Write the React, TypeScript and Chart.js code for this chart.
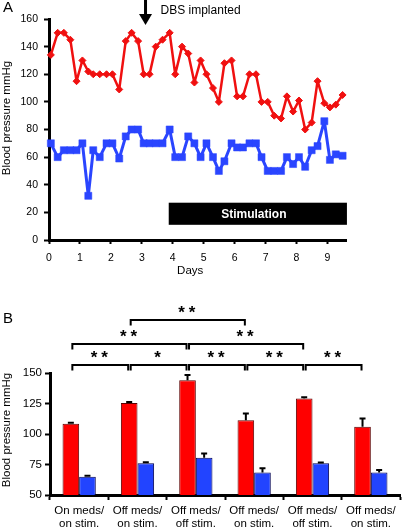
import React, { useEffect, useRef } from 'react';
import { Chart, registerables } from 'chart.js';

Chart.register(...registerables);

const FONT = "'Liberation Sans', Arial, Helvetica, sans-serif";
const RED = '#f01010';
const BLUE = '#2a45ff';
const BAR_RED = '#ff0000';
const BAR_BLUE = '#2244ff';

// ---------- Panel A data ----------
const DAYS = [0.06, 0.28, 0.48, 0.69, 0.89, 1.08, 1.27, 1.43, 1.64, 1.86, 2.05, 2.27, 2.48, 2.67, 2.88, 3.06, 3.25, 3.45, 3.67, 3.9, 4.08, 4.3, 4.5, 4.7, 4.9, 5.09, 5.3, 5.49, 5.67, 5.9, 6.08, 6.27, 6.48, 6.69, 6.87, 7.07, 7.28, 7.5, 7.69, 7.89, 8.08, 8.28, 8.49, 8.68, 8.9, 9.08, 9.27, 9.49];
const SYSTOLIC = [134, 150, 150, 145, 115, 130, 122, 120, 120, 120, 120, 109, 144, 150, 144, 120, 120, 140, 145, 150, 120, 140, 135, 114, 130, 120, 110, 100, 128, 130, 104, 104, 120, 120, 100, 100, 90, 88, 104, 93, 101, 80, 85, 115, 99, 96, 98, 105];
const DIASTOLIC = [70, 60, 65, 65, 65, 70, 32, 65, 60, 70, 70, 59, 75, 80, 80, 70, 70, 70, 70, 80, 60, 60, 75, 70, 60, 70, 60, 50, 57, 70, 67, 67, 70, 70, 60, 50, 50, 50, 60, 55, 60, 53, 65, 68, 86, 58, 62, 61];
const X_TICKS_A = [0, 1, 2, 3, 4, 5, 6, 7, 8, 9];
const Y_TICKS_A = [0, 20, 40, 60, 80, 100, 120, 140, 160];
const X_MAX_A = 9.6;
const STIM_START = 3.87;
const STIM_END = 9.63;
const STIM_LOW = 11;
const STIM_HIGH = 27;
const STIM_LABEL = 'Stimulation';
const DBS_DAY = 3.12;
const DBS_LABEL = 'DBS implanted';
const Y_TITLE = 'Blood pressure mmHg';
const X_TITLE_A = 'Days';

// ---------- Panel B data ----------
const CONDITIONS = [
  ['On meds/', 'on stim.'],
  ['Off meds/', 'on stim.'],
  ['Off meds/', 'off stim.'],
  ['Off meds/', 'on stim.'],
  ['Off meds/', 'off stim.'],
  ['Off meds/', 'on stim.'],
];
const SYS_MEAN = [108.5, 125.5, 144, 111.3, 129, 106];
const SYS_ERR = [0.7, 0.8, 4.4, 5.5, 1.2, 6.8];
const DIA_MEAN = [65, 76, 80.5, 68.5, 76, 68.5];
const DIA_ERR = [0.8, 0.8, 3.5, 3.5, 0.6, 2];
const Y_TICKS_B = [50, 75, 100, 125, 150];
// [from condition, to condition, row, stars]
const COMPARISONS: [number, number, number, string][] = [
  [0, 1, 0, '**'],
  [1, 2, 0, '*'],
  [2, 3, 0, '**'],
  [3, 4, 0, '**'],
  [4, 5, 0, '**'],
  [0, 2, 1, '**'],
  [2, 4, 1, '**'],
  [1, 3, 2, '**'],
];
// vertical offsets (px above plot top) of bracket rows
const ROW_OFFSET = [8, 29, 53];

const axisTicks = (vals: number[]) => (s: any) => {
  s.ticks = vals.map((v) => ({ value: v }));
};

const panelAPlugin = {
  id: 'panelA',
  afterDatasetsDraw(chart: any) {
    const { ctx, scales } = chart;
    const x = scales.x;
    const y = scales.y;
    ctx.save();
    // stimulation bar
    const x0 = x.getPixelForValue(STIM_START);
    const x1 = x.getPixelForValue(STIM_END);
    const y0 = y.getPixelForValue(STIM_HIGH);
    const y1 = y.getPixelForValue(STIM_LOW);
    ctx.fillStyle = '#000';
    ctx.fillRect(x0, y0, x1 - x0, y1 - y0);
    ctx.fillStyle = '#fff';
    ctx.font = `bold 12px ${FONT}`;
    ctx.textAlign = 'center';
    ctx.textBaseline = 'middle';
    ctx.fillText(STIM_LABEL, (x0 + x1) / 2 - 4, (y0 + y1) / 2 + 0.5);

    // DBS arrow
    const ax = x.getPixelForValue(DBS_DAY);
    ctx.fillStyle = '#000';
    ctx.fillRect(ax - 1.5, 0, 3, 17);
    ctx.beginPath();
    ctx.moveTo(ax - 6.5, 14);
    ctx.lineTo(ax + 6.5, 14);
    ctx.lineTo(ax, 25);
    ctx.closePath();
    ctx.fill();
    ctx.font = `12px ${FONT}`;
    ctx.textAlign = 'left';
    ctx.textBaseline = 'middle';
    ctx.fillText(DBS_LABEL, ax + 15, 11);

    // panel letter
    ctx.font = `15px ${FONT}`;
    ctx.textBaseline = 'alphabetic';
    ctx.fillText('A', 3, 12);

    // axis titles
    ctx.font = `11.5px ${FONT}`;
    ctx.textAlign = 'center';
    ctx.textBaseline = 'middle';
    ctx.fillText(X_TITLE_A, (x.getPixelForValue(0) + x.getPixelForValue(9)) / 2 + 2, 271);
    ctx.translate(7, 118);
    ctx.rotate(-Math.PI / 2);
    ctx.fillText(Y_TITLE, 0, 0);
    ctx.restore();
  },
};

const panelBPlugin = {
  id: 'panelB',
  afterDatasetsDraw(chart: any) {
    const { ctx, scales, chartArea } = chart;
    const y = scales.y;
    ctx.save();
    // error bars
    const sets = [
      { mean: SYS_MEAN, err: SYS_ERR },
      { mean: DIA_MEAN, err: DIA_ERR },
    ];
    ctx.strokeStyle = '#000';
    ctx.lineWidth = 2;
    sets.forEach((s, di) => {
      const meta = chart.getDatasetMeta(di);
      meta.data.forEach((bar: any, i: number) => {
        const top = y.getPixelForValue(s.mean[i] + s.err[i]);
        ctx.beginPath();
        ctx.moveTo(bar.x, bar.y);
        ctx.lineTo(bar.x, top);
        ctx.moveTo(bar.x - 3, top);
        ctx.lineTo(bar.x + 3, top);
        ctx.stroke();
      });
    });

    // significance brackets
    const reds = chart.getDatasetMeta(0).data;
    ctx.lineWidth = 2;
    COMPARISONS.forEach(([a, b, row, stars]) => {
      const xa = reds[a].x + 1.5;
      const xb = reds[b].x - 1;
      const ly = chartArea.top - ROW_OFFSET[row];
      ctx.beginPath();
      ctx.moveTo(xa, ly + 5.5);
      ctx.lineTo(xa, ly);
      ctx.lineTo(xb, ly);
      ctx.lineTo(xb, ly + 5.5);
      ctx.stroke();
      const cx = (xa + xb) / 2 - 1;
      const cy = ly - 11.5;
      ctx.fillStyle = '#000';
      ctx.font = `bold 17px ${FONT}`;
      ctx.textAlign = 'center';
      ctx.textBaseline = 'alphabetic';
      const n = stars.length;
      for (let k = 0; k < n; k++) {
        const sx = cx + (k - (n - 1) / 2) * 10.5;
        ctx.fillText('*', sx, cy + 0.58 * 17);
      }
    });

    // panel letter and y title
    ctx.fillStyle = '#000';
    ctx.font = `15px ${FONT}`;
    ctx.textAlign = 'left';
    ctx.textBaseline = 'alphabetic';
    ctx.fillText('B', 3, 43);
    ctx.font = `11.5px ${FONT}`;
    ctx.textAlign = 'center';
    ctx.textBaseline = 'middle';
    ctx.translate(7, 150);
    ctx.rotate(-Math.PI / 2);
    ctx.fillText(Y_TITLE, 0, 0);
    ctx.restore();
  },
};

function PanelA() {
  const ref = useRef<HTMLCanvasElement>(null);
  useEffect(() => {
    const canvas = ref.current;
    if (!canvas) return;
    const chart = new Chart(canvas, {
      type: 'line',
      data: {
        datasets: [
          {
            label: 'Systolic',
            data: DAYS.map((d, i) => ({ x: d, y: SYSTOLIC[i] })),
            borderColor: RED,
            backgroundColor: RED,
            borderWidth: 2.5,
            borderJoinStyle: 'round',
            pointStyle: 'rectRot',
            pointRadius: 3.5,
            pointBorderWidth: 1,
            pointBorderColor: RED,
            pointBackgroundColor: RED,
            tension: 0,
            clip: false,
          } as any,
          {
            label: 'Diastolic',
            data: DAYS.map((d, i) => ({ x: d, y: DIASTOLIC[i] })),
            borderColor: BLUE,
            backgroundColor: BLUE,
            borderWidth: 3,
            borderJoinStyle: 'round',
            pointStyle: 'rect',
            pointRadius: 5,
            pointBorderWidth: 0.5,
            pointBorderColor: BLUE,
            pointBackgroundColor: BLUE,
            tension: 0,
            clip: false,
          } as any,
        ],
      },
      options: {
        animation: false,
        responsive: false,
        devicePixelRatio: 1,
        layout: { padding: { top: 19, right: 56, left: 0, bottom: 0 } },
        plugins: { legend: { display: false }, tooltip: { enabled: false } },
        scales: {
          x: {
            type: 'linear',
            min: 0,
            max: X_MAX_A,
            afterBuildTicks: axisTicks(X_TICKS_A),
            afterFit: (s: any) => {
              s.height = 40;
            },
            ticks: { color: '#000', font: { family: FONT, size: 10.5 }, padding: 8, maxRotation: 0, autoSkip: false },
            grid: { drawOnChartArea: false, drawTicks: true, tickLength: 4, tickColor: '#000', tickWidth: 2 },
            border: { color: '#000', width: 3 },
          },
          y: {
            min: 0,
            max: 160,
            afterBuildTicks: axisTicks(Y_TICKS_A),
            afterFit: (s: any) => {
              s.width = 49;
            },
            ticks: { color: '#000', font: { family: FONT, size: 10.5 }, padding: 6 },
            grid: { drawOnChartArea: false, drawTicks: true, tickLength: 5, tickColor: '#000', tickWidth: 2 },
            border: { color: '#000', width: 3 },
          },
        },
      } as any,
      plugins: [panelAPlugin],
    });
    return () => chart.destroy();
  }, []);
  return (
    <canvas
      ref={ref}
      width={402}
      height={280}
      style={{ position: 'absolute', left: 0, top: 0, width: 402, height: 280 }}
    />
  );
}

function PanelB() {
  const ref = useRef<HTMLCanvasElement>(null);
  useEffect(() => {
    const canvas = ref.current;
    if (!canvas) return;
    const chart = new Chart(canvas, {
      type: 'bar',
      data: {
        labels: CONDITIONS,
        datasets: [
          {
            label: 'Systolic',
            data: SYS_MEAN,
            backgroundColor: BAR_RED,
            borderColor: '#5a0000',
            borderWidth: 1,
            categoryPercentage: 0.57,
            barPercentage: 1,
          },
          {
            label: 'Diastolic',
            data: DIA_MEAN,
            backgroundColor: BAR_BLUE,
            borderColor: '#000050',
            borderWidth: 1,
            categoryPercentage: 0.57,
            barPercentage: 1,
          },
        ],
      },
      options: {
        animation: false,
        responsive: false,
        devicePixelRatio: 1,
        layout: { padding: { top: 93, right: 2, left: 0, bottom: 0 } },
        plugins: { legend: { display: false }, tooltip: { enabled: false } },
        scales: {
          x: {
            afterFit: (s: any) => {
              s.height = 32;
            },
            ticks: {
              color: '#000',
              font: { family: FONT, size: 11.5, lineHeight: 1.08 },
              padding: 5,
              maxRotation: 0,
              autoSkip: false,
            },
            grid: { drawOnChartArea: false, drawTicks: true, tickLength: 5, tickColor: '#000', tickWidth: 2 },
            border: { color: '#000', width: 3 },
          },
          y: {
            min: 50,
            max: 150,
            afterBuildTicks: axisTicks(Y_TICKS_B),
            afterFit: (s: any) => {
              s.width = 50;
            },
            ticks: { color: '#000', font: { family: FONT, size: 11.5 }, padding: 3 },
            grid: { drawOnChartArea: false, drawTicks: true, tickLength: 5, tickColor: '#000', tickWidth: 2 },
            border: { color: '#000', width: 3 },
          },
        },
      } as any,
      plugins: [panelBPlugin],
    });
    return () => chart.destroy();
  }, []);
  return (
    <canvas
      ref={ref}
      width={402}
      height={247}
      style={{ position: 'absolute', left: 0, top: 280, width: 402, height: 247 }}
    />
  );
}

export default function App() {
  return (
    <div style={{ position: 'absolute', left: 0, top: 0, width: 402, height: 527, background: '#fff', overflow: 'hidden' }}>
      <PanelA />
      <PanelB />
    </div>
  );
}
